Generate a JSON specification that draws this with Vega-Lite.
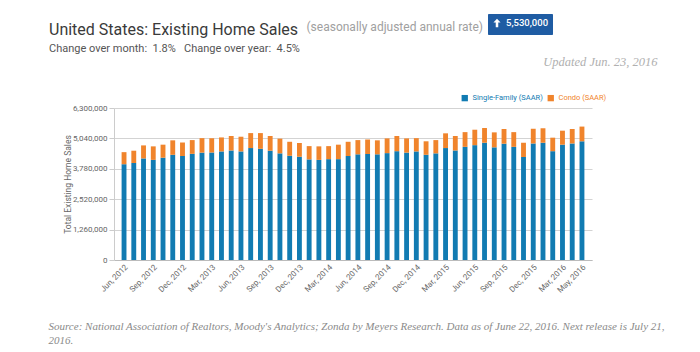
{
  "$schema": "https://vega.github.io/schema/vega-lite/v6.json",
  "autosize": "none",
  "width": 478,
  "height": 152,
  "padding": {"left": 114, "top": 108, "right": 108, "bottom": 92},
  "background": "white",
  "title": {
    "text": "United States: Existing Home Sales",
    "subtitle": "Change over month:\u00a0 1.8%\u00a0\u00a0 Change over year:\u00a0 4.5%",
    "anchor": "start",
    "frame": "group",
    "dx": -65,
    "dy": 44,
    "font": "Roboto",
    "fontSize": 16,
    "fontWeight": "normal",
    "color": "#3a3a3a",
    "subtitleFont": "Roboto",
    "subtitleFontSize": 11,
    "subtitleColor": "#555555",
    "subtitlePadding": 5
  },
  "datasets": {
    "sales": [
      {"month": "Jun, 2012", "Single-Family (SAAR)": 3970000, "Condo (SAAR)": 500000},
      {"month": "Jul, 2012", "Single-Family (SAAR)": 4020000, "Condo (SAAR)": 510000},
      {"month": "Aug, 2012", "Single-Family (SAAR)": 4210000, "Condo (SAAR)": 540000},
      {"month": "Sep, 2012", "Single-Family (SAAR)": 4150000, "Condo (SAAR)": 560000},
      {"month": "Oct, 2012", "Single-Family (SAAR)": 4240000, "Condo (SAAR)": 540000},
      {"month": "Nov, 2012", "Single-Family (SAAR)": 4360000, "Condo (SAAR)": 600000},
      {"month": "Dec, 2012", "Single-Family (SAAR)": 4310000, "Condo (SAAR)": 560000},
      {"month": "Jan, 2013", "Single-Family (SAAR)": 4400000, "Condo (SAAR)": 570000},
      {"month": "Feb, 2013", "Single-Family (SAAR)": 4450000, "Condo (SAAR)": 600000},
      {"month": "Mar, 2013", "Single-Family (SAAR)": 4460000, "Condo (SAAR)": 590000},
      {"month": "Apr, 2013", "Single-Family (SAAR)": 4500000, "Condo (SAAR)": 580000},
      {"month": "May, 2013", "Single-Family (SAAR)": 4540000, "Condo (SAAR)": 600000},
      {"month": "Jun, 2013", "Single-Family (SAAR)": 4500000, "Condo (SAAR)": 610000},
      {"month": "Jul, 2013", "Single-Family (SAAR)": 4640000, "Condo (SAAR)": 620000},
      {"month": "Aug, 2013", "Single-Family (SAAR)": 4610000, "Condo (SAAR)": 650000},
      {"month": "Sep, 2013", "Single-Family (SAAR)": 4530000, "Condo (SAAR)": 610000},
      {"month": "Oct, 2013", "Single-Family (SAAR)": 4420000, "Condo (SAAR)": 610000},
      {"month": "Nov, 2013", "Single-Family (SAAR)": 4320000, "Condo (SAAR)": 580000},
      {"month": "Dec, 2013", "Single-Family (SAAR)": 4280000, "Condo (SAAR)": 570000},
      {"month": "Jan, 2014", "Single-Family (SAAR)": 4170000, "Condo (SAAR)": 550000},
      {"month": "Feb, 2014", "Single-Family (SAAR)": 4150000, "Condo (SAAR)": 560000},
      {"month": "Mar, 2014", "Single-Family (SAAR)": 4180000, "Condo (SAAR)": 540000},
      {"month": "Apr, 2014", "Single-Family (SAAR)": 4180000, "Condo (SAAR)": 600000},
      {"month": "May, 2014", "Single-Family (SAAR)": 4310000, "Condo (SAAR)": 590000},
      {"month": "Jun, 2014", "Single-Family (SAAR)": 4380000, "Condo (SAAR)": 590000},
      {"month": "Jul, 2014", "Single-Family (SAAR)": 4390000, "Condo (SAAR)": 600000},
      {"month": "Aug, 2014", "Single-Family (SAAR)": 4380000, "Condo (SAAR)": 580000},
      {"month": "Sep, 2014", "Single-Family (SAAR)": 4430000, "Condo (SAAR)": 610000},
      {"month": "Oct, 2014", "Single-Family (SAAR)": 4510000, "Condo (SAAR)": 630000},
      {"month": "Nov, 2014", "Single-Family (SAAR)": 4450000, "Condo (SAAR)": 590000},
      {"month": "Dec, 2014", "Single-Family (SAAR)": 4500000, "Condo (SAAR)": 550000},
      {"month": "Jan, 2015", "Single-Family (SAAR)": 4360000, "Condo (SAAR)": 560000},
      {"month": "Feb, 2015", "Single-Family (SAAR)": 4420000, "Condo (SAAR)": 550000},
      {"month": "Mar, 2015", "Single-Family (SAAR)": 4640000, "Condo (SAAR)": 610000},
      {"month": "Apr, 2015", "Single-Family (SAAR)": 4540000, "Condo (SAAR)": 600000},
      {"month": "May, 2015", "Single-Family (SAAR)": 4690000, "Condo (SAAR)": 610000},
      {"month": "Jun, 2015", "Single-Family (SAAR)": 4760000, "Condo (SAAR)": 640000},
      {"month": "Jul, 2015", "Single-Family (SAAR)": 4860000, "Condo (SAAR)": 610000},
      {"month": "Aug, 2015", "Single-Family (SAAR)": 4670000, "Condo (SAAR)": 620000},
      {"month": "Sep, 2015", "Single-Family (SAAR)": 4820000, "Condo (SAAR)": 610000},
      {"month": "Oct, 2015", "Single-Family (SAAR)": 4690000, "Condo (SAAR)": 610000},
      {"month": "Nov, 2015", "Single-Family (SAAR)": 4270000, "Condo (SAAR)": 590000},
      {"month": "Dec, 2015", "Single-Family (SAAR)": 4830000, "Condo (SAAR)": 610000},
      {"month": "Jan, 2016", "Single-Family (SAAR)": 4860000, "Condo (SAAR)": 600000},
      {"month": "Feb, 2016", "Single-Family (SAAR)": 4510000, "Condo (SAAR)": 560000},
      {"month": "Mar, 2016", "Single-Family (SAAR)": 4780000, "Condo (SAAR)": 580000},
      {"month": "Apr, 2016", "Single-Family (SAAR)": 4830000, "Condo (SAAR)": 600000},
      {"month": "May, 2016", "Single-Family (SAAR)": 4920000, "Condo (SAAR)": 610000}
    ]
  },
  "layer": [
    {
      "data": {"name": "sales"},
      "transform": [
        {"fold": ["Single-Family (SAAR)", "Condo (SAAR)"], "as": ["series", "value"]}
      ],
      "mark": {"type": "bar"},
      "encoding": {
        "x": {
          "field": "month",
          "type": "nominal",
          "sort": null,
          "scale": {"type": "band", "paddingInner": 0.5, "paddingOuter": 0.78},
          "axis": {
            "orient": "bottom",
            "values": ["Jun, 2012", "Sep, 2012", "Dec, 2012", "Mar, 2013", "Jun, 2013", "Sep, 2013", "Dec, 2013", "Mar, 2014", "Jun, 2014", "Sep, 2014", "Dec, 2014", "Mar, 2015", "Jun, 2015", "Sep, 2015", "Dec, 2015", "Mar, 2016", "May, 2016"],
            "labelAngle": -45,
            "labelAlign": "right",
            "labelBaseline": "top",
            "labelFont": "Roboto",
            "labelFontSize": 8,
            "labelColor": "#666666",
            "labelPadding": 3,
            "labelOverlap": false,
            "ticks": false,
            "grid": false,
            "domain": true,
            "domainColor": "#bbbbbb",
            "title": ["Source: National Association of Realtors, Moody's Analytics; Zonda by Meyers Research. Data as of June 22, 2016. Next release is July 21,", "2016."],
            "titleX": -66,
            "titleY": 60,
            "titleAlign": "left",
            "titleBaseline": "top",
            "titleAnchor": null,
            "titleFont": "Liberation Serif",
            "titleFontStyle": "italic",
            "titleFontWeight": "normal",
            "titleFontSize": 11,
            "titleColor": "#8a8a8a",
            "titleLineHeight": 14,
            "titleLimit": 1000
          }
        },
        "y": {
          "field": "value",
          "type": "quantitative",
          "stack": "zero",
          "scale": {"domain": [0, 6300000], "nice": false, "zero": true},
          "axis": {
            "orient": "left",
            "values": [0, 1260000, 2520000, 3780000, 5040000, 6300000],
            "format": ",d",
            "labelFont": "Roboto",
            "labelFontSize": 8,
            "labelColor": "#666666",
            "labelPadding": 2,
            "ticks": true,
            "tickSize": 5,
            "tickColor": "#cccccc",
            "domain": true,
            "domainColor": "#cccccc",
            "grid": true,
            "gridColor": "#d3d3d3",
            "gridWidth": 1,
            "title": "Total Existing Home Sales",
            "titleFont": "Roboto",
            "titleFontSize": 8.5,
            "titleFontWeight": "normal",
            "titleColor": "#666666",
            "titleX": -44,
            "titleY": 76,
            "titleAngle": 270,
            "titleAlign": "center",
            "titleBaseline": "alphabetic"
          }
        },
        "color": {
          "field": "series",
          "type": "nominal",
          "scale": {
            "domain": ["Single-Family (SAAR)", "Condo (SAAR)"],
            "range": ["#117bb2", "#f0842c"]
          },
          "legend": {
            "orient": "none",
            "legendX": 347,
            "legendY": -14,
            "direction": "horizontal",
            "title": null,
            "symbolType": "square",
            "symbolSize": 40,
            "symbolStrokeWidth": 0,
            "labelFont": "Roboto",
            "labelFontSize": 7.5,
            "labelOffset": 4,
            "columnPadding": 4,
            "padding": 0,
            "encode": {
              "labels": {"update": {"fill": {"scale": "color", "field": "value"}}}
            }
          }
        },
        "order": {"field": "series", "type": "nominal", "sort": "descending"}
      }
    },
    {
      "data": {"values": []},
      "mark": {"type": "point", "filled": true, "color": "white", "opacity": 1},
      "encoding": {
        "x": {
          "field": "month",
          "type": "nominal",
          "sort": null,
          "axis": {
            "orient": "top",
            "labels": false,
            "ticks": false,
            "domain": false,
            "grid": false,
            "title": "(seasonally adjusted annual rate)",
            "titleX": 192,
            "titleY": -78,
            "titleAlign": "left",
            "titleBaseline": "alphabetic",
            "titleAnchor": null,
            "titleFont": "Roboto",
            "titleFontSize": 12,
            "titleFontWeight": "normal",
            "titleColor": "#a0a0a0"
          }
        },
        "y": {
          "field": "value",
          "type": "quantitative",
          "axis": {
            "orient": "right",
            "labels": false,
            "ticks": false,
            "domain": false,
            "grid": false,
            "title": "Updated Jun. 23, 2016",
            "titleX": 65,
            "titleY": -43,
            "titleAngle": 0,
            "titleAlign": "right",
            "titleBaseline": "alphabetic",
            "titleAnchor": null,
            "titleFont": "Liberation Serif",
            "titleFontStyle": "italic",
            "titleFontWeight": "normal",
            "titleFontSize": 12.5,
            "titleColor": "#b0b0b0"
          }
        },
        "shape": {
          "field": "badge",
          "type": "nominal",
          "scale": {
            "domain": ["5,530,000"],
            "range": ["M0,-1L0.85,-0.1L0.3,-0.1L0.3,1L-0.3,1L-0.3,-0.1L-0.85,-0.1Z"]
          },
          "legend": {
            "orient": "none",
            "legendX": 374,
            "legendY": -94,
            "title": null,
            "fillColor": "#1f5ca3",
            "padding": 4,
            "cornerRadius": 1,
            "symbolSize": 70,
            "labelFont": "Roboto",
            "labelFontSize": 9.5,
            "labelFontWeight": 500,
            "labelColor": "white",
            "labelOffset": 4,
            "encode": {
              "symbols": {"update": {"fill": {"value": "white"}, "stroke": {"value": "white"}, "strokeWidth": {"value": 0}, "opacity": {"value": 1}}}
            }
          }
        }
      }
    }
  ],
  "resolve": {"axis": {"x": "independent", "y": "independent"}},
  "config": {
    "view": {"stroke": null}
  }
}
